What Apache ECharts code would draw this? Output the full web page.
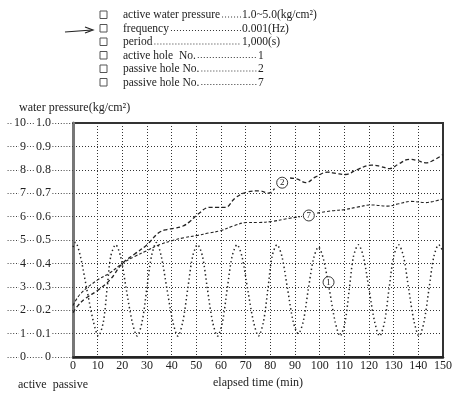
<!DOCTYPE html>
<html>
<head>
<meta charset="utf-8">
<script src="https://cdn.jsdelivr.net/npm/echarts@6/dist/echarts.min.js"></script>
<style>
  html, body { margin: 0; padding: 0; background: #fff; }
  #chart { width: 455px; height: 394px; }
</style>
</head>
<body>
<div id="chart"></div>
<script>
// test conditions (header block)
const specLabels = ['active water pressure', 'frequency', 'period', 'active hole  No.', 'passive hole No.', 'passive hole No.'];
const specValues = ['1.0~5.0(kg/cm²)', '0.001(Hz)', '1,000(s)', '1', '2', '7'];

// axis ticks
const timeTicks = [0, 10, 20, 30, 40, 50, 60, 70, 80, 90, 100, 110, 120, 130, 140, 150];
const passiveTicks = ['0', '0.1', '0.2', '0.3', '0.4', '0.5', '0.6', '0.7', '0.8', '0.9', '1.0'];
const activeTicks = ['0', '1', '2', '3', '4', '5', '6', '7', '8', '9', '10'];

// active hole No.1 (read on passive scale)
const hole1 = [
  [0, 0.47], [1, 0.49], [3, 0.43], [5.6, 0.29], [8.3, 0.15], [10.3, 0.09], [12.3, 0.15], [13.8, 0.29], [15.3, 0.43], [17.3, 0.48],
  [19.3, 0.43], [21.6, 0.29], [24, 0.15], [26, 0.09], [28, 0.15], [29.9, 0.29], [31.8, 0.43], [33.8, 0.49],
  [35.8, 0.43], [38.1, 0.29], [40.5, 0.15], [42.5, 0.09], [44.5, 0.15], [46.5, 0.29], [48.5, 0.43], [50.5, 0.48],
  [52.5, 0.43], [54.5, 0.29], [56.6, 0.15], [58.6, 0.09], [60.6, 0.15], [62.5, 0.29], [64.5, 0.43], [66.5, 0.48],
  [68.5, 0.43], [70.8, 0.29], [73.2, 0.15], [75.2, 0.09], [77.2, 0.15], [79, 0.29], [80.7, 0.43], [82.7, 0.48],
  [84.7, 0.43], [87, 0.29], [89.3, 0.15], [91.3, 0.10], [93.3, 0.15], [95.4, 0.29], [97.5, 0.42], [99.5, 0.47],
  [101.5, 0.42], [103.9, 0.29], [106.3, 0.15], [108.3, 0.09], [110.3, 0.15], [112, 0.29], [113.7, 0.43], [115.7, 0.48],
  [117.7, 0.43], [120, 0.29], [122.3, 0.15], [124.3, 0.09], [126.3, 0.15], [128.1, 0.29], [130, 0.43], [132, 0.48],
  [134, 0.43], [136.1, 0.29], [138.3, 0.15], [140.3, 0.09], [142.3, 0.15], [144.3, 0.29], [146.3, 0.43], [148.3, 0.48],
  [150, 0.45]
];

// passive hole No.2
const hole2 = [
  [0, 0.19], [2, 0.22], [5, 0.25], [10, 0.285], [15, 0.33], [20, 0.40], [25, 0.44],
  [30, 0.48], [34.6, 0.53], [38, 0.545], [41, 0.55], [44.6, 0.56], [47.5, 0.58],
  [50.6, 0.61], [55.4, 0.64], [58.5, 0.64], [61.8, 0.64], [65.8, 0.68], [70.5, 0.705],
  [75.7, 0.71], [79.3, 0.70], [81.7, 0.72], ['-', '-'],
  [88, 0.765], [91, 0.76], [94.4, 0.745], [98.4, 0.77], [103.2, 0.79], [106.5, 0.785],
  [110.4, 0.78], [115, 0.80], [121.1, 0.82], [124.5, 0.815], [128.3, 0.805],
  [132, 0.825], [136.3, 0.845], [139.5, 0.84], [143, 0.83], [146, 0.84], [150, 0.865]
];

// passive hole No.7
const hole7 = [
  [0, 0.22], [3, 0.27], [10, 0.33], [15, 0.36], [20, 0.40], [25, 0.43], [30, 0.455],
  [35, 0.48], [41, 0.50], [45, 0.51], [50.6, 0.52], [55, 0.53], [59.8, 0.54], [65, 0.56],
  [70.5, 0.575], [75, 0.575], [81, 0.58], [86, 0.59], [92, 0.60], ['-', '-'],
  [99, 0.615], [105, 0.625], [110, 0.63], [115, 0.64], [121, 0.65], [127.5, 0.645],
  [132, 0.655], [137, 0.665], [143, 0.66], [146, 0.665], [150, 0.675]
];

// circled curve numbers
const curveTags = [
  { name: '2', at: [84.8, 0.745] },
  { name: '7', at: [95.6, 0.605] },
  { name: '1', at: [103.6, 0.32] }
];

const serif = '"Liberation Serif", "DejaVu Serif", serif';
const ink = '#222';

const chart = echarts.init(document.getElementById('chart'), null, { renderer: 'canvas' });

// measure header text so the dotted leaders start right after each label
const measureCtx = document.createElement('canvas').getContext('2d');
measureCtx.font = '11.5px ' + serif;

const headerGraphics = [];
specLabels.forEach((label, i) => {
  const y = 15 + i * 13.5;
  const valueX = i < 3 ? 242 : 258;
  const labelEnd = 123 + measureCtx.measureText(label).width;
  headerGraphics.push(
    { type: 'rect', shape: { x: 100, y: y - 4, width: 7, height: 7.5 }, style: { fill: 'none', stroke: '#555', lineWidth: 1 } },
    { type: 'text', x: 123, y: y, style: { text: label, font: '11.5px ' + serif, fill: ink, verticalAlign: 'middle' } },
    { type: 'line', shape: { x1: labelEnd + 2, y1: y + 2, x2: valueX - 1, y2: y + 2 }, style: { stroke: '#333', lineWidth: 1, lineDash: [1, 2] } },
    { type: 'text', x: valueX, y: y, style: { text: specValues[i], font: '11.5px ' + serif, fill: ink, verticalAlign: 'middle' } }
  );
});

function tagMarks(tag) {
  return {
    symbol: 'circle', symbolSize: 11,
    itemStyle: { color: '#fff', borderColor: ink, borderWidth: 0.9 },
    label: { show: true, position: 'inside', color: ink, fontFamily: serif, fontSize: 9, formatter: p => p.name },
    data: [{ name: tag.name, coord: tag.at }]
  };
}

const option = {
  animation: false,
  backgroundColor: '#fff',
  textStyle: { fontFamily: serif },
  grid: { left: 73, right: 7, top: 123, bottom: 29, show: true, borderColor: '#333', borderWidth: 2, backgroundColor: 'transparent' },
  xAxis: {
    type: 'value', min: 0, max: 150, interval: 10,
    name: 'elapsed time (min)', nameLocation: 'middle', nameGap: 14,
    nameTextStyle: { fontFamily: serif, fontSize: 12, color: ink },
    axisLine: { show: true, lineStyle: { color: '#222', width: 2.5 } },
    axisTick: { show: false },
    axisLabel: { fontFamily: serif, fontSize: 12, color: ink, margin: 3, formatter: v => timeTicks.includes(v) ? String(v) : '' },
    splitLine: { show: true, lineStyle: { color: '#333', type: [1, 2], width: 1 } }
  },
  yAxis: [
    {
      type: 'value', min: 0, max: 1, interval: 0.1, position: 'left',
      axisLine: { show: true, lineStyle: { color: '#777', width: 3 } },
      axisTick: { show: true, inside: false, length: 66, lineStyle: { color: '#444', type: [1, 1.8], width: 1 } },
      axisLabel: {
        fontFamily: serif, fontSize: 12, color: ink, margin: 21,
        backgroundColor: '#fff', padding: [0, 1],
        formatter: v => passiveTicks[Math.round(v * 10)]
      },
      splitLine: { show: true, lineStyle: { color: '#333', type: [1, 2], width: 1 } }
    },
    {
      type: 'value', min: 0, max: 10, interval: 1, position: 'left',
      axisLine: { show: false }, axisTick: { show: false }, splitLine: { show: false },
      axisLabel: {
        fontFamily: serif, fontSize: 12, color: ink, margin: 46,
        backgroundColor: '#fff', padding: [0, 1],
        formatter: v => activeTicks[Math.round(v)]
      }
    }
  ],
  graphic: headerGraphics.concat([
    { type: 'polyline', shape: { points: [[65, 32], [92, 30]] }, style: { stroke: ink, lineWidth: 1.2, fill: 'none' } },
    { type: 'polyline', shape: { points: [[85, 27], [93, 30], [85, 33]] }, style: { stroke: ink, lineWidth: 1.2, fill: 'none' } },
    { type: 'text', x: 19, y: 108, style: { text: 'water pressure(kg/cm²)', font: '12px ' + serif, fill: ink, verticalAlign: 'middle' } },
    { type: 'text', x: 18, y: 385, style: { text: 'active  passive', font: '12px ' + serif, fill: ink, verticalAlign: 'middle' } }
  ]),
  series: [
    {
      name: 'active hole No.1', type: 'line', data: hole1, smooth: 0.3, symbol: 'none',
      lineStyle: { color: ink, width: 1.5, type: [1.4, 2.8], cap: 'butt' },
      markPoint: tagMarks(curveTags[2])
    },
    {
      name: 'passive hole No.2', type: 'line', data: hole2, smooth: 0.4, symbol: 'none',
      lineStyle: { color: ink, width: 1.3, type: [4, 2.5] },
      markPoint: tagMarks(curveTags[0])
    },
    {
      name: 'passive hole No.7', type: 'line', data: hole7, smooth: 0.4, symbol: 'none',
      lineStyle: { color: ink, width: 1.1, type: [3, 2] },
      markPoint: tagMarks(curveTags[1])
    }
  ]
};

chart.setOption(option);
</script>
</body>
</html>
